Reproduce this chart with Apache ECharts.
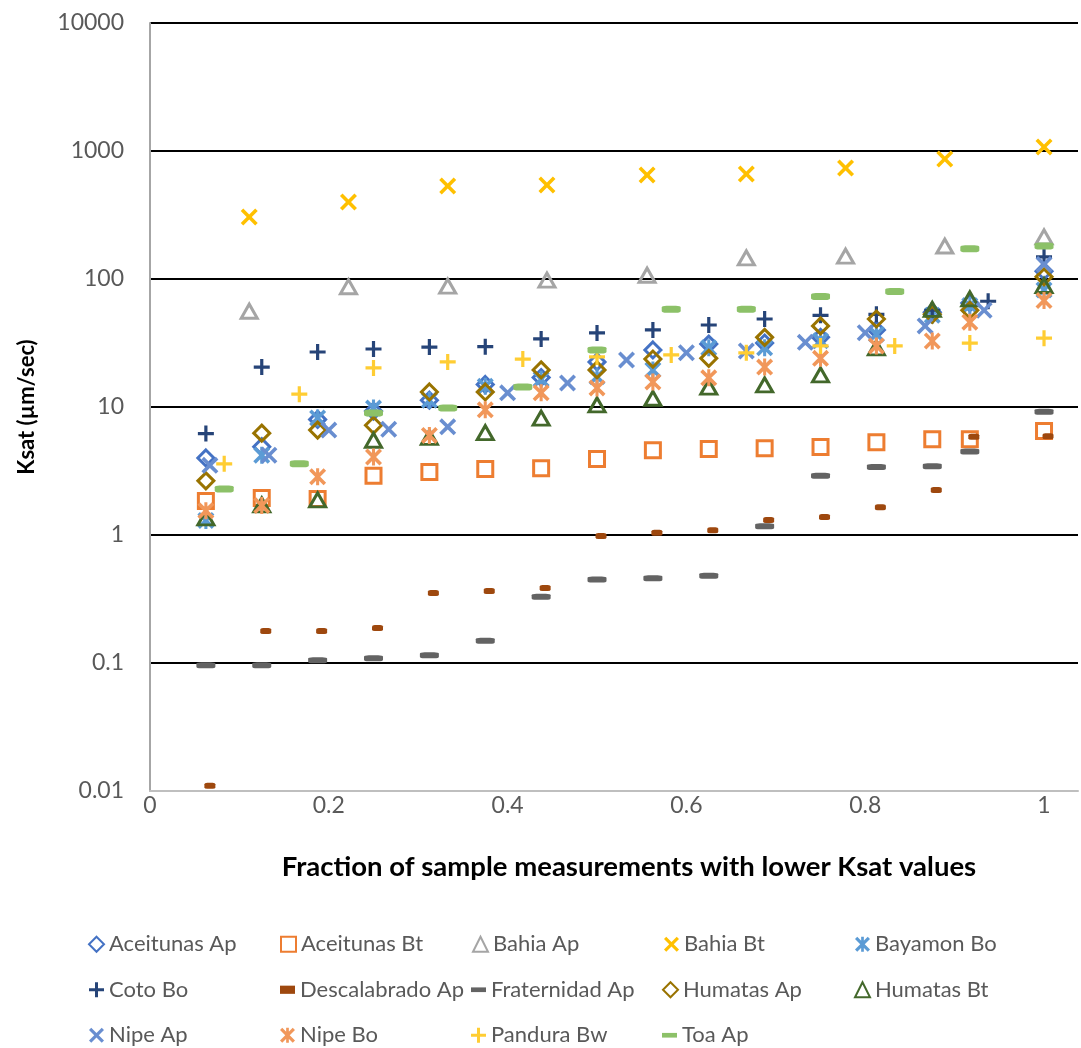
<!DOCTYPE html>
<html>
<head>
<meta charset="utf-8">
<script src="https://cdn.jsdelivr.net/npm/echarts@6/dist/echarts.min.js"></script>
<style>
  html, body { margin: 0; padding: 0; background: #fff; }
  #chart { width: 1081px; height: 1048px; }
</style>
</head>
<body>
<div id="chart"></div>
<script>
  // x positions (fraction of measurements)
  var x9  = [0.111, 0.222, 0.333, 0.444, 0.556, 0.667, 0.778, 0.889, 1];
  var x12 = [0.083, 0.167, 0.25, 0.333, 0.417, 0.5, 0.583, 0.667, 0.75, 0.833, 0.917, 1];
  var x15 = [0.067, 0.133, 0.2, 0.267, 0.333, 0.4, 0.467, 0.533, 0.6, 0.667, 0.733, 0.8, 0.867, 0.933, 1];
  var x16 = [0.0625, 0.125, 0.1875, 0.25, 0.3125, 0.375, 0.4375, 0.5, 0.5625, 0.625, 0.6875, 0.75, 0.8125, 0.875, 0.917, 1];
  var x16b = [0.0625, 0.125, 0.1875, 0.25, 0.3125, 0.375, 0.4375, 0.5, 0.5625, 0.625, 0.6875, 0.75, 0.8125, 0.875, 0.9375, 1];

  // Ksat values (um/sec)
  var aceitunasAp   = [4.0, 4.9, 8.0, 9.3, 11.3, 15.0, 17.0, 22.5, 27.9, 31.0, 31.6, 35, 40, 55, 65, 115];
  var aceitunasBt   = [1.84, 1.95, 1.91, 2.9, 3.1, 3.28, 3.33, 3.92, 4.6, 4.7, 4.77, 4.87, 5.3, 5.6, 5.6, 6.5];
  var bahiaAp       = [56, 87, 88, 98, 107, 146, 151, 181, 213];
  var bahiaBt       = [305, 400, 533, 542, 649, 661, 736, 866, 1075];
  var bayamonBo     = [1.3, 4.2, 8.2, 9.8, 11.3, 14.5, 16.5, 17.2, 19.5, 29, 29, 33, 37, 52, 62, 82];
  var cotoBo        = [6.2, 20.5, 26.9, 28.4, 29.4, 29.6, 34, 37.9, 40, 43.7, 48.7, 52, 53, 57, 67, 149];
  var descalabradoAp = [0.011, 0.178, 0.178, 0.188, 0.352, 0.365, 0.385, 0.98, 1.04, 1.09, 1.31, 1.38, 1.65, 2.25, 5.85, 5.9];
  var fraternidadAp = [0.096, 0.096, 0.105, 0.109, 0.115, 0.149, 0.33, 0.45, 0.46, 0.48, 1.17, 2.9, 3.4, 3.45, 4.5, 9.2];
  var humatasAp     = [2.65, 6.25, 6.6, 7.2, 13.1, 13.1, 19.5, 19.5, 23.7, 24, 35, 43, 48.7, 53, 57, 104];
  var humatasBt     = [1.36, 1.72, 1.88, 5.5, 5.8, 6.3, 8.2, 10.4, 11.7, 14.3, 14.9, 17.8, 29, 58, 70, 89];
  var nipeAp        = [3.5, 4.2, 6.6, 6.7, 7.0, 12.9, 15.4, 23.3, 26.5, 27.4, 32, 38, 43, 57, 130];
  var nipeBo        = [1.55, 1.7, 2.85, 4.07, 6.0, 9.5, 12.9, 14.1, 15.7, 16.9, 20.5, 24, 30, 32.8, 46, 68];
  var panduraBw     = [3.6, 12.6, 20.2, 22.5, 23.7, 24.6, 25.5, 26.5, 30, 30, 31.6, 34.5];
  var toaAp         = [2.29, 3.6, 8.97, 9.8, 14.3, 27.9, 58, 58, 73, 80, 172, 181];

  var FONT = 'Lato';

  // marker shapes
  var X_PATH = 'path://M0,1.5L1.5,0L5,3.5L8.5,0L10,1.5L6.5,5L10,8.5L8.5,10L5,6.5L1.5,10L0,8.5L3.5,5Z';
  var PLUS_PATH = 'path://M4,0L6,0L6,4L10,4L10,6L6,6L6,10L4,10L4,6L0,6L0,4L4,4Z';
  var STAR_PATH = 'path://M0,1.5L1.5,0L5,3.5L8.5,0L10,1.5L6.5,5L10,8.5L8.5,10L5,6.5L1.5,10L0,8.5L3.5,5Z M4.1,0L5.9,0L5.9,10L4.1,10Z';
  var DASH_ICON = 'path://M0,0L16,0L16,5L0,5Z';
  var SMALL_DASH_ICON = 'path://M0,0L11,0L11,6L0,6Z';

  function pairs(xs, ys) {
    return ys.map(function (v, i) { return [xs[i], v]; });
  }

  function hollow(name, xs, ys, color, symbol, size) {
    return {
      name: name, type: 'scatter', data: pairs(xs, ys),
      symbol: symbol, symbolSize: size,
      itemStyle: { color: 'rgba(0,0,0,0)', borderColor: color, borderWidth: 3, opacity: 1 }
    };
  }

  function solid(name, xs, ys, color, symbol, size, offset) {
    var s = {
      name: name, type: 'scatter', data: pairs(xs, ys),
      symbol: symbol, symbolSize: size,
      itemStyle: { color: color, opacity: 1 }
    };
    if (offset) s.symbolOffset = offset;
    return s;
  }

  var series = [
    hollow('Aceitunas Ap', x16, aceitunasAp, '#4472C4', 'diamond', [16, 16]),
    hollow('Aceitunas Bt', x16, aceitunasBt, '#ED7D31', 'rect', [15, 15]),
    hollow('Bahia Ap', x9, bahiaAp, '#A5A5A5', 'triangle', [16, 14]),
    solid('Bahia Bt', x9, bahiaBt, '#FFC000', X_PATH, [17, 17]),
    solid('Bayamon Bo', x16, bayamonBo, '#5B9BD5', STAR_PATH, [17, 17]),
    solid('Coto Bo', x16b, cotoBo, '#264478', PLUS_PATH, [16, 16]),
    solid('Descalabrado Ap', x16, descalabradoAp, '#9E480E', 'roundRect', [11, 6], [4, 0]),
    solid('Fraternidad Ap', x16, fraternidadAp, '#636363', 'roundRect', [19, 6]),
    hollow('Humatas Ap', x16, humatasAp, '#997300', 'diamond', [16, 16]),
    hollow('Humatas Bt', x16, humatasBt, '#43682B', 'triangle', [16, 14]),
    solid('Nipe Ap', x15, nipeAp, '#698ED0', X_PATH, [17, 17]),
    solid('Nipe Bo', x16, nipeBo, '#F1975A', STAR_PATH, [17, 17]),
    solid('Pandura Bw', x12, panduraBw, '#FFCD33', PLUS_PATH, [16, 16]),
    solid('Toa Ap', x12, toaAp, '#8CC168', 'roundRect', [19, 7])
  ];

  var legendData = series.map(function (s) {
    var item = { name: s.name };
    if (s.name === 'Descalabrado Ap') item.icon = SMALL_DASH_ICON;
    else if (s.name === 'Fraternidad Ap' || s.name === 'Toa Ap') item.icon = DASH_ICON;
    return item;
  });

  var chart = echarts.init(document.getElementById('chart'));
  chart.setOption({
    animation: false,
    backgroundColor: '#ffffff',
    grid: { left: 150, right: 1, top: 23, bottom: 257, containLabel: false },
    legend: {
      left: 88, top: 924, width: 990, padding: 0,
      itemWidth: 15, itemHeight: 15, itemGap: 5,
      textStyle: { fontFamily: FONT, fontSize: 22, color: '#595959', width: 166, overflow: 'none', lineHeight: 40.5 },
      data: legendData
    },
    xAxis: {
      type: 'value', min: 0, max: 1.038, interval: 0.2,
      name: 'Fraction of sample measurements with lower Ksat values',
      nameLocation: 'middle', nameGap: 62,
      nameTextStyle: { fontFamily: FONT, fontSize: 27.5, fontWeight: 'bold', color: '#000', padding: [0, 0, 0, 30] },
      axisLine: { show: true, lineStyle: { color: '#BFBFBF', width: 2 } },
      axisTick: { show: false },
      splitLine: { show: false },
      axisLabel: {
        fontFamily: FONT, fontSize: 23, color: '#595959', margin: 3,
        formatter: function (v) { return v > 1.0001 ? '' : String(+v.toFixed(1)); }
      }
    },
    yAxis: {
      type: 'log', logBase: 10, min: 0.01, max: 10000,
      name: 'Ksat (\u00b5m/sec)',
      nameLocation: 'middle', nameGap: 112, nameRotate: 90,
      nameTextStyle: { fontFamily: FONT, fontSize: 22, fontWeight: 'bold', color: '#000' },
      axisLine: { show: true, lineStyle: { color: '#A6A6A6', width: 2 } },
      axisTick: { show: false },
      splitLine: { show: true, lineStyle: { color: '#000000', width: 2 } },
      axisLabel: {
        fontFamily: FONT, fontSize: 23, color: '#595959', margin: 26,
        formatter: function (v) {
          var e = Math.round(Math.log(v) / Math.LN10);
          return e < 0 ? Math.pow(10, e).toFixed(-e) : String(Math.pow(10, e));
        }
      }
    },
    series: series
  });
</script>
</body>
</html>
